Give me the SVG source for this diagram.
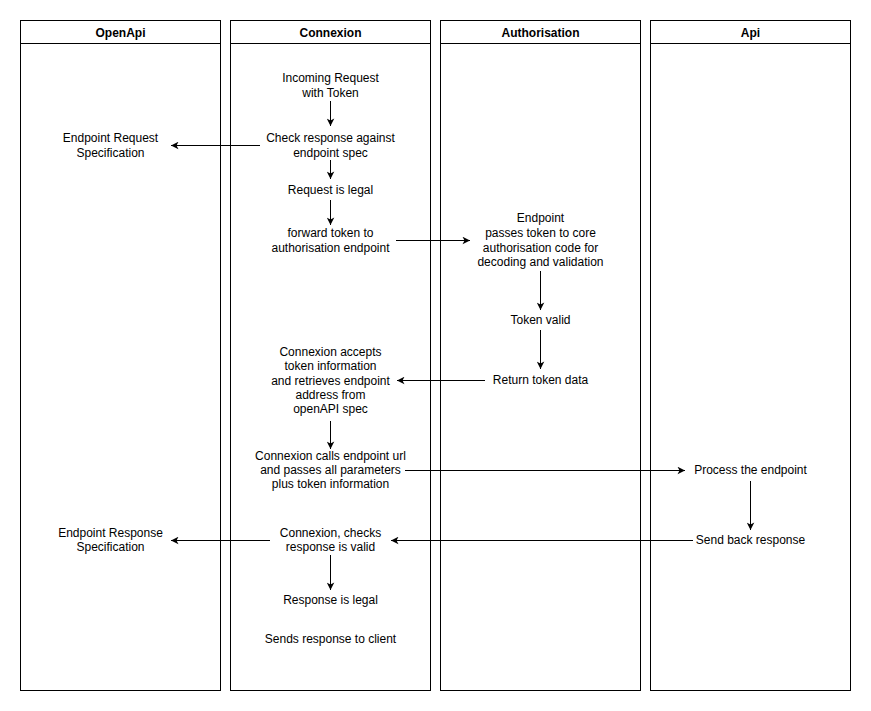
<svg xmlns="http://www.w3.org/2000/svg" width="871" height="711" viewBox="0 0 871 711">
<defs>
<marker id="arr" viewBox="-8 -4 8 8" refX="0" refY="0" markerWidth="8" markerHeight="8" markerUnits="userSpaceOnUse" orient="auto">
<path d="M0,0 L-7.5,-3.8 L-5.5,0 L-7.5,3.8 Z" fill="#000"/>
</marker>
<style>
.lane{fill:#fff;stroke:#000;stroke-width:1}
.hd{font-family:"Liberation Sans",Arial,sans-serif;font-size:12px;font-weight:bold;fill:#000;text-anchor:middle;dominant-baseline:central}
.t{font-family:"Liberation Sans",Arial,sans-serif;font-size:12px;fill:#000;text-anchor:middle;dominant-baseline:central}
.c{fill:none;stroke:#000;stroke-width:1;marker-end:url(#arr)}
</style>
</defs>
<rect width="871" height="711" fill="#fff"/>
<g id="lane-openapi">
<rect class="lane" x="20.5" y="20.5" width="200" height="670"/>
<line x1="20.5" y1="43.5" x2="220.5" y2="43.5" stroke="#000"/>
<text class="hd" x="120.5" y="32.5">OpenApi</text>
</g>
<g id="lane-connexion">
<rect class="lane" x="230.5" y="20.5" width="200" height="670"/>
<line x1="230.5" y1="43.5" x2="430.5" y2="43.5" stroke="#000"/>
<text class="hd" x="330.5" y="32.5">Connexion</text>
</g>
<g id="lane-authorisation">
<rect class="lane" x="440.5" y="20.5" width="200" height="670"/>
<line x1="440.5" y1="43.5" x2="640.5" y2="43.5" stroke="#000"/>
<text class="hd" x="540.5" y="32.5">Authorisation</text>
</g>
<g id="lane-api">
<rect class="lane" x="650.5" y="20.5" width="200" height="670"/>
<line x1="650.5" y1="43.5" x2="850.5" y2="43.5" stroke="#000"/>
<text class="hd" x="750.5" y="32.5">Api</text>
</g>
<g id="n-incoming"><text class="t" x="330.5" y="78">Incoming Request</text><text class="t" x="330.5" y="93">with Token</text></g>
<g id="n-check"><text class="t" x="330.5" y="138">Check response against</text><text class="t" x="330.5" y="153">endpoint spec</text></g>
<g id="n-reqspec"><text class="t" x="110.5" y="138">Endpoint Request</text><text class="t" x="110.5" y="153">Specification</text></g>
<g id="n-reqlegal"><text class="t" x="330.5" y="190">Request is legal</text></g>
<g id="n-forward"><text class="t" x="330.5" y="233">forward token to</text><text class="t" x="330.5" y="248">authorisation endpoint</text></g>
<g id="n-endpoint"><text class="t" x="540.5" y="218">Endpoint</text><text class="t" x="540.5" y="233">passes token to core</text><text class="t" x="540.5" y="248">authorisation code for</text><text class="t" x="540.5" y="262">decoding and validation</text></g>
<g id="n-tokenvalid"><text class="t" x="540.5" y="320">Token valid</text></g>
<g id="n-return"><text class="t" x="540.5" y="380">Return token data</text></g>
<g id="n-accepts"><text class="t" x="330.5" y="352">Connexion accepts</text><text class="t" x="330.5" y="366">token information</text><text class="t" x="330.5" y="381">and retrieves endpoint</text><text class="t" x="330.5" y="395">address from</text><text class="t" x="330.5" y="409">openAPI spec</text></g>
<g id="n-calls"><text class="t" x="330.5" y="456">Connexion calls endpoint url</text><text class="t" x="330.5" y="470">and passes all parameters</text><text class="t" x="330.5" y="484">plus token information</text></g>
<g id="n-process"><text class="t" x="750.5" y="470">Process the endpoint</text></g>
<g id="n-sendback"><text class="t" x="750.5" y="540">Send back response</text></g>
<g id="n-checks"><text class="t" x="330.5" y="533">Connexion, checks</text><text class="t" x="330.5" y="547">response is valid</text></g>
<g id="n-respspec"><text class="t" x="110.5" y="533">Endpoint Response</text><text class="t" x="110.5" y="547">Specification</text></g>
<g id="n-resplegal"><text class="t" x="330.5" y="600">Response is legal</text></g>
<g id="n-sends"><text class="t" x="330.5" y="639">Sends response to client</text></g>
<g id="connectors">
<path class="c" d="M330.5,101 V126"/>
<path class="c" d="M260,145.5 H171"/>
<path class="c" d="M330.5,160 V179"/>
<path class="c" d="M330.5,200 V225"/>
<path class="c" d="M396,240.5 H470"/>
<path class="c" d="M540.5,271 V310"/>
<path class="c" d="M540.5,330 V369"/>
<path class="c" d="M485,380.5 H397"/>
<path class="c" d="M330.5,421 V449"/>
<path class="c" d="M405,470.5 H685"/>
<path class="c" d="M750.5,481 V530"/>
<path class="c" d="M693,540.5 H391"/>
<path class="c" d="M270,540.5 H171"/>
<path class="c" d="M330.5,555 V590"/>
</g>
</svg>
